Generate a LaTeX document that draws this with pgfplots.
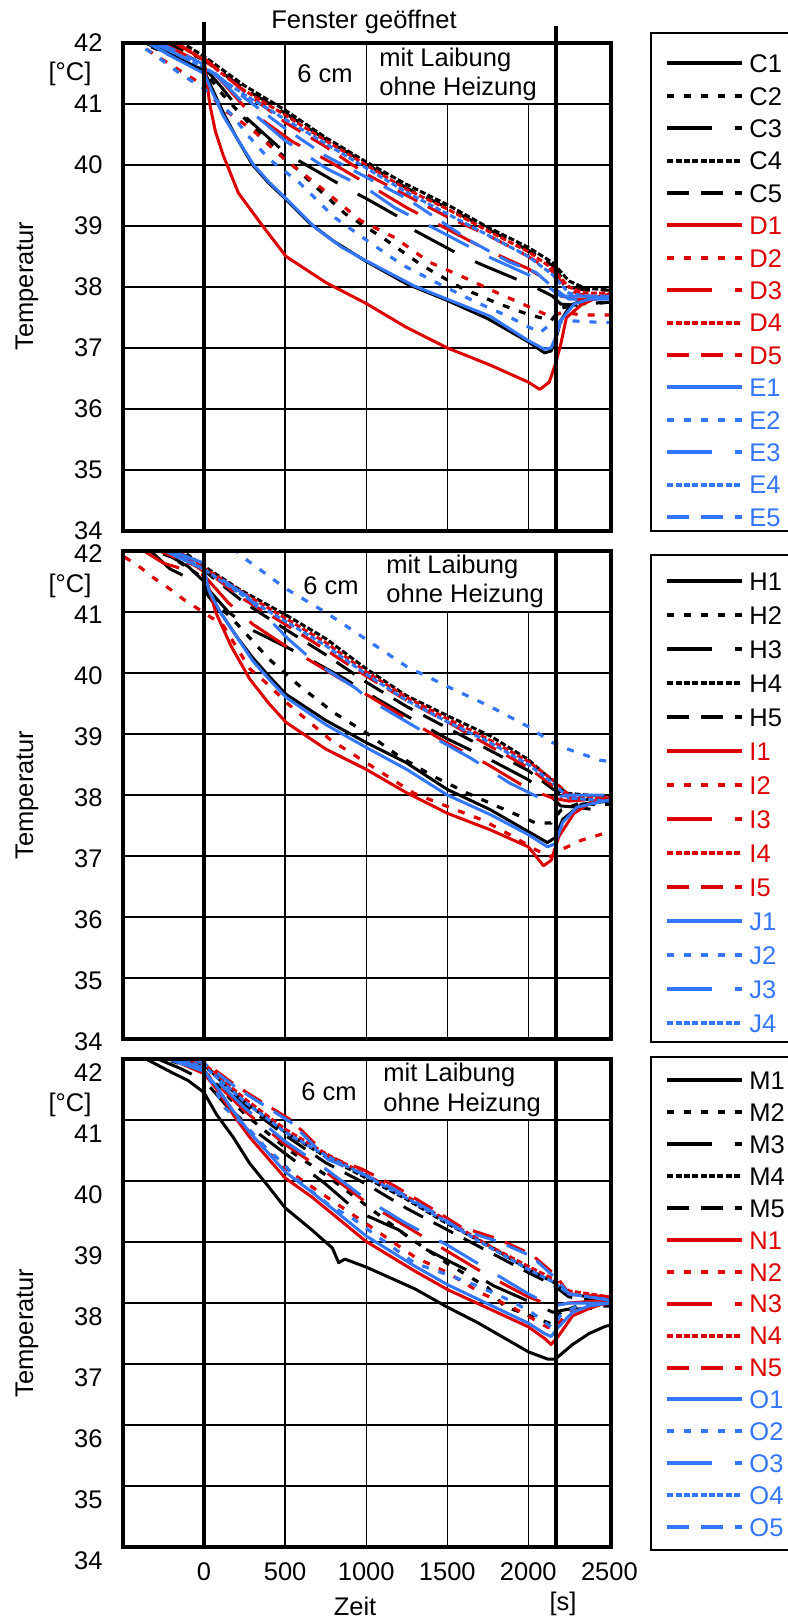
\documentclass[border=0pt]{standalone}
\usepackage{fontspec}
\setmainfont{Liberation Sans}
\usepackage{pgfplots}
\pgfplotsset{compat=1.18}
\definecolor{cR}{RGB}{221,0,0}
\definecolor{cB}{RGB}{51,119,255}
\newcommand{\fs}{\fontsize{12.75}{15}\selectfont}
\pgfplotsset{
 sA/.style={line width=1.5pt},
 sB/.style={line width=1.6pt, dash pattern=on 3.5pt off 5pt},
 sC/.style={line width=1.5pt, dash pattern=on 22.5pt off 11.5pt},
 sD/.style={line width=1.5pt, dash pattern=on 3pt off 1.17pt},
 sE/.style={line width=1.5pt, dash pattern=on 11pt off 6pt},
 legend image code/.code={\draw[#1, line width=2pt] (0pt,0pt) -- (37.5pt,0pt);},
 panel/.style={
   scale only axis, width=244pt, height=244pt,
   xmin=-500, xmax=2510, ymin=34, ymax=42,
   xtick={0,500,1000,1500,2000}, ytick={34,35,36,37,38,39,40,41,42},
   grid=major, major grid style={black, line width=0.65pt},
   major tick length=0pt,
   axis line style={line width=2pt},
   clip mode=individual,
   yticklabel style={anchor=east, inner sep=0pt, xshift=-10pt},
   tick label style={font=\fs},
   /pgf/number format/assume math mode=true,
   /pgf/number format/set thousands separator={},
   legend cell align=left,
   legend style={draw=none, fill=none, inner sep=0pt, column sep=2.5pt, anchor=north west, font=\fs},
   no marks,
   every axis plot/.append style={line join=round},
 },
}
\begin{document}
\begin{tikzpicture}
% ================= TOP =================
\begin{axis}[panel, at={(61.5pt,-21.5pt)}, anchor=north west, xticklabels={},
  legend style={at={(1.11066,0.99221)}, nodes={inner sep=0pt, text height=12.7pt, text depth=3.5pt}}]
\addplot[black, sA] coordinates {(-400,42.05)(-200,41.8)(0,41.55)(50,41.25)(120,40.85)(200,40.45)(300,40.0)(400,39.7)(500,39.45)(650,39.05)(800,38.75)(1000,38.42)(1250,38.05)(1500,37.78)(1750,37.48)(2000,37.1)(2100,36.92)(2140,36.95)(2170,37.15)(2200,37.45)(2260,37.7)(2350,37.8)(2500,37.85)};
\addlegendentry{C1}
\addplot[black, sB] coordinates {(-420,42.05)(0,41.55)(100,41.2)(282,40.67)(506,40.1)(682,39.66)(871,39.2)(1106,38.8)(1341,38.36)(1576,38.0)(1812,37.73)(2000,37.55)(2141,37.45)(2200,37.65)(2300,37.72)(2500,37.75)};
\addlegendentry{C2}
\addplot[black, sC] coordinates {(-400,42.05)(0,41.6)(100,41.3)(250,40.8)(500,40.2)(871,39.63)(1000,39.45)(1200,39.15)(1282,38.95)(1576,38.53)(1718,38.36)(2024,38.02)(2150,37.85)(2200,37.72)(2300,37.7)(2500,37.75)};
\addlegendentry{C3}
\addplot[black, sD] coordinates {(-150,42.03)(0,41.78)(250,41.3)(500,40.9)(750,40.45)(1000,40.05)(1250,39.68)(1500,39.35)(1750,38.98)(2000,38.65)(2150,38.4)(2250,38.1)(2350,37.98)(2500,37.95)};
\addlegendentry{C4}
\addplot[black, sE] coordinates {(-250,42.03)(0,41.72)(250,41.25)(500,40.85)(750,40.42)(1000,40.02)(1250,39.62)(1500,39.3)(1750,38.95)(2000,38.6)(2150,38.35)(2250,38.0)(2350,37.95)(2500,37.95)};
\addlegendentry{C5}
\addplot[cR, sA] coordinates {(-190,42.02)(-100,41.88)(0,41.72)(15,41.4)(35,41.0)(70,40.55)(118,40.16)(212,39.54)(353,39.03)(506,38.5)(753,38.07)(1000,37.73)(1247,37.34)(1501,37.0)(1765,36.72)(2000,36.44)(2071,36.32)(2129,36.44)(2165,36.72)(2200,37.06)(2235,37.5)(2329,37.71)(2442,37.85)(2500,37.88)};
\addlegendentry[text=cR]{D1}
\addplot[cR, sB] coordinates {(-440,42.05)(-300,41.8)(-150,41.55)(0,41.3)(100,40.95)(306,40.56)(494,40.1)(706,39.66)(965,39.09)(1176,38.81)(1388,38.41)(1576,38.19)(1812,37.9)(2000,37.68)(2141,37.51)(2212,37.59)(2329,37.54)(2500,37.54)};
\addlegendentry[text=cR]{D2}
\addplot[cR, sC] coordinates {(-300,42.05)(0,41.65)(100,41.4)(250,40.95)(541,40.39)(777,40.05)(1000,39.7)(1250,39.3)(1500,38.95)(1750,38.6)(2000,38.3)(2150,38.05)(2200,37.85)(2300,37.8)(2500,37.8)};
\addlegendentry[text=cR]{D3}
\addplot[cR, sD] coordinates {(-200,42.03)(0,41.72)(250,41.22)(500,40.82)(750,40.4)(1000,40.0)(1250,39.6)(1500,39.28)(1750,38.92)(2000,38.58)(2150,38.3)(2250,38.0)(2350,37.9)(2500,37.9)};
\addlegendentry[text=cR]{D4}
\addplot[cR, sE] coordinates {(-200,42.03)(0,41.75)(250,41.2)(500,40.7)(750,40.3)(1000,39.85)(1250,39.5)(1500,39.15)(1750,38.85)(2000,38.5)(2150,38.25)(2250,37.95)(2350,37.85)(2500,37.85)};
\addlegendentry[text=cR]{D5}
\addplot[cB, sA] coordinates {(-380,42.05)(-200,41.78)(0,41.5)(50,41.2)(120,40.8)(200,40.45)(306,40.0)(400,39.72)(506,39.45)(682,38.98)(850,38.65)(1000,38.43)(1294,38.02)(1500,37.8)(1765,37.52)(2000,37.12)(2100,36.98)(2140,37.0)(2165,37.15)(2200,37.45)(2282,37.72)(2400,37.82)(2500,37.85)};
\addlegendentry[text=cB]{E1}
\addplot[cB, sB] coordinates {(-450,42.05)(-300,41.8)(-150,41.5)(0,41.25)(100,41.0)(165,40.84)(282,40.45)(400,40.1)(588,39.71)(800,39.15)(1012,38.75)(1224,38.36)(1435,38.07)(1647,37.79)(1882,37.51)(2071,37.25)(2141,37.4)(2235,37.45)(2442,37.42)(2500,37.42)};
\addlegendentry[text=cB]{E2}
\addplot[cB, sC] coordinates {(-350,42.05)(0,41.6)(71,41.49)(306,40.84)(500,40.4)(750,39.95)(1012,39.6)(1176,39.3)(1500,38.85)(1750,38.5)(2000,38.2)(2150,37.95)(2200,37.85)(2300,37.85)(2500,37.85)};
\addlegendentry[text=cB]{E3}
\addplot[cB, sD] coordinates {(-350,42.05)(0,41.6)(250,41.15)(500,40.75)(750,40.35)(1000,39.95)(1250,39.55)(1500,39.2)(1750,38.85)(2000,38.5)(2150,38.2)(2250,37.9)(2350,37.85)(2500,37.85)};
\addlegendentry[text=cB]{E4}
\addplot[cB, sE] coordinates {(-300,42.03)(0,41.65)(250,41.1)(500,40.6)(750,40.15)(1000,39.8)(1250,39.45)(1647,38.75)(1882,38.41)(2047,38.24)(2150,38.0)(2250,37.8)(2350,37.8)(2500,37.8)};
\addlegendentry[text=cB]{E5}
\fill[white] (axis cs:1008,41.015) rectangle (axis cs:2160,41.99);
\draw[line width=2pt] (axis cs:0,34) -- ([yshift=10.5pt]axis cs:0,42);
\draw[line width=2pt] (axis cs:2170,34) -- ([yshift=8.5pt]axis cs:2170,42);
\draw[line width=2pt] (rel axis cs:0,0) rectangle (rel axis cs:1,1);
\end{axis}
% ================= MIDDLE =================
\begin{axis}[panel, at={(61.5pt,-275.5pt)}, anchor=north west, xticklabels={},
  yticklabel style={yshift=-1.5pt},
  legend style={at={(1.11066,0.97336)}, nodes={inner sep=0pt, text height=13.1pt, text depth=3.9pt}}]
\addplot[black, sA] coordinates {(-300,42.05)(-100,41.75)(0,41.5)(24,41.27)(100,41.0)(200,40.6)(300,40.25)(400,39.95)(506,39.65)(753,39.22)(1000,38.86)(1247,38.53)(1501,38.09)(1765,37.76)(2000,37.4)(2118,37.22)(2165,37.3)(2212,37.6)(2329,37.85)(2500,37.9)};
\addlegendentry{H1}
\addplot[black, sB] coordinates {(-350,42.05)(-200,41.9)(0,41.55)(71,41.16)(212,40.78)(400,40.23)(588,39.79)(800,39.35)(1000,39.02)(1200,38.64)(1412,38.31)(1624,38.03)(1812,37.81)(2047,37.54)(2141,37.54)(2200,37.75)(2300,37.85)(2500,37.85)};
\addlegendentry{H2}
\addplot[black, sC] coordinates {(-350,42.05)(-212,41.71)(-71,41.52)(0,41.45)(150,41.0)(300,40.7)(565,40.35)(871,39.9)(1000,39.68)(1247,39.3)(1500,38.92)(1750,38.6)(2000,38.25)(2150,37.95)(2200,37.82)(2300,37.8)(2500,37.72)};
\addlegendentry{H3}
\addplot[black, sD] coordinates {(-150,42.03)(0,41.75)(212,41.38)(506,40.95)(753,40.56)(1000,40.07)(1247,39.63)(1501,39.3)(1765,38.97)(2000,38.58)(2141,38.25)(2235,38.03)(2442,37.98)(2500,37.98)};
\addlegendentry{H4}
\addplot[black, sE] coordinates {(-230,42.03)(0,41.68)(250,41.15)(500,40.72)(750,40.3)(1000,39.85)(1250,39.45)(1500,39.1)(1750,38.75)(2000,38.4)(2150,38.1)(2250,37.95)(2500,37.9)};
\addlegendentry{H5}
\addplot[cR, sA] coordinates {(-200,42.03)(0,41.66)(40,41.3)(71,41.0)(165,40.45)(282,39.9)(400,39.5)(506,39.19)(753,38.75)(1000,38.42)(1247,38.04)(1501,37.7)(1765,37.43)(2000,37.15)(2094,36.84)(2141,36.93)(2188,37.32)(2282,37.7)(2400,37.9)(2500,37.95)};
\addlegendentry[text=cR]{I1}
\addplot[cR, sB] coordinates {(-490,41.9)(-412,41.77)(-306,41.55)(-212,41.38)(-118,41.19)(-24,41.03)(118,40.78)(282,40.07)(400,39.8)(506,39.52)(777,38.91)(1000,38.53)(1294,38.03)(1501,37.81)(1718,37.59)(1906,37.32)(2047,37.1)(2141,36.99)(2200,37.1)(2329,37.26)(2442,37.35)(2500,37.4)};
\addlegendentry[text=cR]{I2}
\addplot[cR, sC] coordinates {(-400,42.05)(-250,41.8)(0,41.6)(150,41.15)(300,40.8)(500,40.45)(750,40.05)(1000,39.65)(1250,39.25)(1500,38.85)(1750,38.5)(2000,38.1)(2150,37.95)(2250,37.9)(2500,37.95)};
\addlegendentry[text=cR]{I3}
\addplot[cR, sD] coordinates {(-180,42.03)(0,41.72)(250,41.3)(500,40.9)(750,40.5)(1000,40.02)(1250,39.6)(1500,39.25)(1750,38.92)(2000,38.55)(2150,38.25)(2250,38.0)(2500,37.95)};
\addlegendentry[text=cR]{I4}
\addplot[cR, sE] coordinates {(-300,42.03)(0,41.7)(250,41.2)(500,40.8)(750,40.38)(1000,39.95)(1250,39.55)(1500,39.2)(1750,38.82)(2000,38.45)(2150,38.15)(2250,37.95)(2500,37.92)};
\addlegendentry[text=cR]{I5}
\addplot[cB, sA] coordinates {(-280,42.05)(0,41.7)(30,41.35)(100,41.0)(200,40.6)(300,40.2)(400,39.9)(506,39.6)(753,39.15)(1000,38.78)(1250,38.42)(1500,38.0)(1765,37.68)(2000,37.35)(2118,37.15)(2165,37.2)(2212,37.55)(2300,37.8)(2500,37.92)};
\addlegendentry[text=cB]{J1}
\addplot[cB, sB] coordinates {(180,42.05)(235,41.91)(506,41.38)(753,40.99)(1000,40.55)(1247,40.11)(1501,39.78)(1765,39.45)(2000,39.12)(2141,38.87)(2235,38.76)(2442,38.57)(2500,38.55)};
\addlegendentry[text=cB]{J2}
\addplot[cB, sC] coordinates {(-250,42.05)(0,41.8)(100,41.55)(259,41.27)(518,40.56)(682,40.18)(941,39.74)(1012,39.57)(1365,39.02)(1647,38.6)(1882,38.2)(2094,37.92)(2141,37.95)(2250,38.0)(2500,38.0)};
\addlegendentry[text=cB]{J3}
\addplot[cB, sD] coordinates {(-220,42.03)(0,41.7)(250,41.25)(500,40.85)(750,40.45)(1000,39.98)(1250,39.55)(1500,39.2)(1750,38.88)(2000,38.5)(2150,38.2)(2250,37.95)(2500,37.9)};
\addlegendentry[text=cB]{J4}
\fill[white] (axis cs:1008,41.015) rectangle (axis cs:2160,41.99);
\draw[line width=2pt] (axis cs:0,34) -- (axis cs:0,42);
\draw[line width=2pt] (axis cs:2170,34) -- (axis cs:2170,42);
\draw[line width=2pt] (rel axis cs:0,0) rectangle (rel axis cs:1,1);
\end{axis}
% ================= BOTTOM =================
\begin{axis}[panel, at={(61.5pt,-529.5pt)}, anchor=north west,
  yticklabel style={yshift=-7pt},
  xticklabel style={anchor=center, inner sep=0pt, yshift=-12.5pt},
  extra x ticks={2500}, extra x tick style={grid=none},
  legend style={at={(1.11066,0.98965)}, nodes={inner sep=0pt, text height=12.575pt, text depth=3.375pt}}]
\addplot[black, sA] coordinates {(-380,42.05)(-358,42.0)(-200,41.78)(-100,41.65)(0,41.45)(77,41.09)(179,40.72)(281,40.29)(400,39.9)(500,39.56)(664,39.2)(792,38.9)(830,38.66)(868,38.72)(999,38.59)(1302,38.23)(1502,37.93)(1686,37.68)(2000,37.2)(2120,37.08)(2166,37.08)(2273,37.32)(2375,37.5)(2477,37.62)(2500,37.63)};
\addlegendentry{M1}
\addplot[black, sB] coordinates {(-300,42.05)(0,41.8)(250,41.1)(500,40.55)(750,40.1)(1000,39.6)(1250,39.1)(1500,38.65)(1750,38.25)(1850,37.95)(2000,37.8)(2150,37.65)(2200,37.85)(2300,37.95)(2500,37.95)};
\addlegendentry{M2}
\addplot[black, sC] coordinates {(-330,42.05)(-150,41.85)(0,41.65)(150,41.2)(300,40.85)(500,40.45)(750,39.95)(945,39.5)(1200,39.2)(1354,38.9)(1635,38.52)(1788,38.28)(2043,37.98)(2150,37.85)(2250,37.9)(2500,37.92)};
\addlegendentry{M3}
\addplot[black, sD] coordinates {(-200,42.03)(0,41.9)(250,41.3)(500,40.8)(750,40.4)(1000,40.05)(1250,39.7)(1500,39.3)(1750,38.95)(2000,38.55)(2150,38.35)(2250,38.15)(2500,38.05)};
\addlegendentry{M4}
\addplot[black, sE] coordinates {(-150,42.03)(0,41.92)(250,41.25)(500,40.75)(750,40.3)(1000,39.95)(1250,39.55)(1500,39.2)(1750,38.85)(2000,38.5)(2150,38.3)(2250,38.1)(2500,38.0)};
\addlegendentry{M5}
\addplot[cR, sA] coordinates {(-250,42.05)(0,41.76)(77,41.51)(179,41.09)(281,40.72)(500,40.05)(664,39.74)(999,39.01)(1302,38.52)(1502,38.22)(2000,37.61)(2100,37.42)(2140,37.32)(2184,37.45)(2273,37.79)(2375,37.91)(2477,38.0)(2500,38.0)};
\addlegendentry[text=cR]{N1}
\addplot[cR, sB] coordinates {(-260,42.05)(0,41.85)(128,41.3)(281,40.8)(485,40.23)(750,39.75)(1000,39.3)(1302,38.75)(1500,38.5)(1711,38.16)(1916,37.91)(2120,37.6)(2165,37.6)(2250,37.85)(2500,38.0)};
\addlegendentry[text=cR]{N2}
\addplot[cR, sC] coordinates {(-250,42.05)(0,41.8)(250,41.15)(500,40.6)(750,40.15)(1000,39.65)(1250,39.25)(1500,38.85)(1750,38.45)(2000,38.1)(2150,37.95)(2250,38.0)(2500,38.05)};
\addlegendentry[text=cR]{N3}
\addplot[cR, sD] coordinates {(-180,42.03)(0,41.92)(250,41.35)(500,40.85)(750,40.45)(1000,40.1)(1250,39.75)(1500,39.35)(1750,38.95)(2000,38.6)(2150,38.4)(2250,38.2)(2500,38.1)};
\addlegendentry[text=cR]{N4}
\addplot[cR, sE] coordinates {(-120,42.03)(0,41.95)(179,41.6)(281,41.42)(536,41.0)(766,40.4)(971,40.2)(1175,39.92)(1405,39.55)(1583,39.25)(1813,39.05)(2018,38.8)(2171,38.45)(2250,38.15)(2500,38.1)};
\addlegendentry[text=cR]{N5}
\addplot[cB, sA] coordinates {(-280,42.05)(0,41.8)(77,41.55)(179,41.15)(281,40.8)(500,40.15)(664,39.82)(999,39.1)(1302,38.6)(1502,38.3)(2000,37.67)(2100,37.5)(2140,37.45)(2184,37.6)(2273,37.85)(2375,37.95)(2500,38.0)};
\addlegendentry[text=cB]{O1}
\addplot[cB, sB] coordinates {(-240,42.05)(0,41.85)(128,41.2)(281,40.84)(383,40.54)(485,40.3)(587,39.99)(766,39.62)(919,39.38)(1175,38.89)(1302,38.65)(1507,38.46)(1686,38.28)(1890,38.04)(2018,37.85)(2145,37.6)(2200,37.8)(2300,37.95)(2500,38.0)};
\addlegendentry[text=cB]{O2}
\addplot[cB, sC] coordinates {(-280,42.05)(0,41.85)(250,41.2)(500,40.65)(750,40.2)(1000,39.7)(1250,39.3)(1500,38.95)(1750,38.55)(2000,38.15)(2150,37.95)(2250,38.0)(2500,38.0)};
\addlegendentry[text=cB]{O3}
\addplot[cB, sD] coordinates {(-220,42.03)(0,41.88)(250,41.3)(500,40.8)(750,40.42)(1000,40.08)(1250,39.72)(1500,39.32)(1750,38.93)(2000,38.55)(2150,38.35)(2250,38.15)(2500,38.05)};
\addlegendentry[text=cB]{O4}
\addplot[cB, sE] coordinates {(-100,42.03)(0,41.93)(179,41.57)(281,41.39)(536,40.96)(766,40.35)(971,40.13)(1175,39.86)(1405,39.5)(1583,39.2)(1813,39.01)(2018,38.77)(2171,38.4)(2250,38.15)(2500,38.05)};
\addlegendentry[text=cB]{O5}
\fill[white] (axis cs:1008,41.015) rectangle (axis cs:2160,41.99);
\draw[line width=2pt] (axis cs:0,34) -- (axis cs:0,42);
\draw[line width=2pt] (axis cs:2170,34) -- (axis cs:2170,42);
\draw[line width=2pt] (rel axis cs:0,0) rectangle (rel axis cs:1,1);
\end{axis}
% ================= texts (pixel grid) =================
\begin{scope}[x=0.5pt, y=-0.5pt, every node/.style={font=\fs, inner sep=0pt}]
\node at (364,22) {Fenster geöffnet};
\node at (325,74) {6 cm};
\node[anchor=west] at (379,60) {mit Laibung};
\node[anchor=west] at (379,89) {ohne Heizung};
\node at (331,586) {6 cm};
\node[anchor=west] at (386,566.5) {mit Laibung};
\node[anchor=west] at (386,596) {ohne Heizung};
\node at (329,1092) {6 cm};
\node[anchor=west] at (383,1075) {mit Laibung};
\node[anchor=west] at (383,1105) {ohne Heizung};
\node at (70,74) {[°C]};
\node at (70,586) {[°C]};
\node at (70,1105) {[°C]};
\node[rotate=90] at (27,286) {Temperatur};
\node[rotate=90] at (27,795) {Temperatur};
\node[rotate=90] at (27,1333) {Temperatur};
\node at (355,1606) {Zeit};
\node at (563,1604) {[s]};
\draw[line width=0.65pt] (651,33) rectangle (830,531);
\draw[line width=0.65pt] (651,555) rectangle (830,1042);
\draw[line width=0.65pt] (651,1057) rectangle (830,1550);
\end{scope}
\pgfresetboundingbox
\path[use as bounding box] (0,0) rectangle (393.5pt,-811pt);
\end{tikzpicture}
\end{document}
